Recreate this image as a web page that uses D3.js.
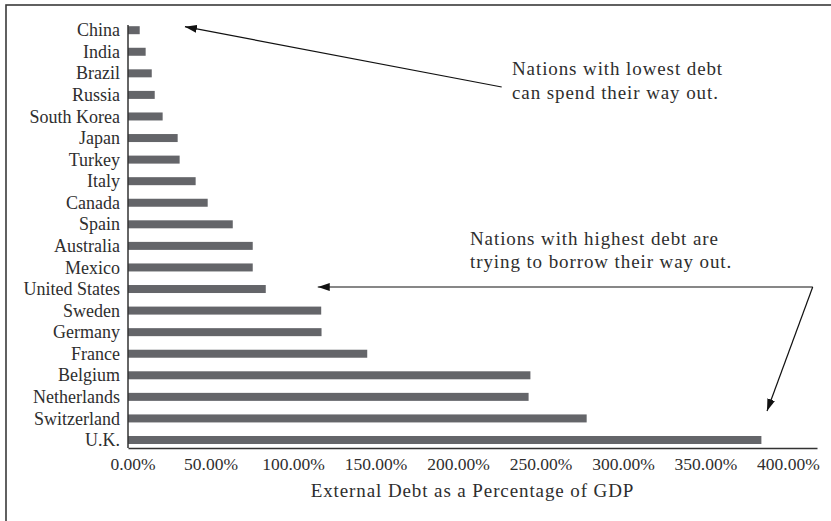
<!DOCTYPE html>
<html>
<head>
<meta charset="utf-8">
<script src="https://cdn.jsdelivr.net/npm/d3@7"></script>
<style>
  html, body { margin: 0; padding: 0; background: #fff; }
  svg { display: block; }
  text { font-family: "Liberation Serif", "Times New Roman", serif; fill: #2e2e2e; }
</style>
</head>
<body>
<svg id="chart" width="831" height="521"></svg>
<script>
// External debt as a share of GDP, by country (percent)
const countries = [
  "China", "India", "Brazil", "Russia", "South Korea", "Japan", "Turkey",
  "Italy", "Canada", "Spain", "Australia", "Mexico", "United States",
  "Sweden", "Germany", "France", "Belgium", "Netherlands", "Switzerland", "U.K."
];
const debtPct = [
  7.1, 10.7, 14.4, 16.2, 21.0, 30.1, 31.3,
  41.0, 48.3, 63.5, 75.6, 75.6, 83.5,
  117.1, 117.3, 145.0, 243.9, 242.8, 278.0, 383.9
];
const tickValues = [0, 50, 100, 150, 200, 250, 300, 350, 400];
const axisTitle = "External Debt as a Percentage of GDP";
const noteLow = ["Nations with lowest debt", "can spend their way out."];
const noteHigh = ["Nations with highest debt are", "trying to borrow their way out."];

const data = countries.map((c, i) => ({ country: c, value: debtPct[i] }));

const svg = d3.select("#chart");

// Outer frame (open at the right and bottom edges of the canvas)
svg.append("rect")
  .attr("x", 6).attr("y", 5)
  .attr("width", 900).attr("height", 600)
  .attr("fill", "none").attr("stroke", "#3a3a3a").attr("stroke-width", 1.6);

const plot = { left: 128, right: 817, top: 25, bottom: 448 };

const x = d3.scaleLinear().domain([0, 417.6]).range([plot.left, plot.right]);
const y = d3.scalePoint().domain(countries).range([30.2, 440]);
const barH = 8;

// Bars
svg.append("g").selectAll("rect")
  .data(data)
  .join("rect")
  .attr("x", x(0))
  .attr("y", d => y(d.country) - barH / 2)
  .attr("width", d => x(d.value) - x(0))
  .attr("height", barH)
  .attr("fill", "#646569");

// Category labels
svg.append("g").selectAll("text")
  .data(countries)
  .join("text")
  .attr("x", plot.left - 8)
  .attr("y", d => y(d))
  .attr("dy", "0.34em")
  .attr("text-anchor", "end")
  .attr("font-size", 18)
  .text(d => d);

// Axis lines
svg.append("line")
  .attr("x1", plot.left).attr("x2", plot.left)
  .attr("y1", plot.top).attr("y2", plot.bottom)
  .attr("stroke", "#333").attr("stroke-width", 1.5);

const xAxis = d3.axisBottom(x)
  .tickValues(tickValues)
  .tickSize(0)
  .tickPadding(10)
  .tickFormat(v => d3.format(".2%")(v / 100));

const gx = svg.append("g")
  .attr("transform", `translate(0,${plot.bottom})`)
  .call(xAxis);
gx.select(".domain").attr("stroke", "#333").attr("stroke-width", 1.5);
gx.selectAll(".tick text")
  .attr("font-family", "Liberation Serif")
  .attr("font-size", 17.5)
  .attr("fill", "#2e2e2e")
  // keep the first label from hanging left of the plot edge
  .attr("dx", (d, i) => (i === 0 ? 4.5 : 0));

// Axis title
svg.append("text")
  .attr("x", (plot.left + plot.right) / 2)
  .attr("y", 497)
  .attr("text-anchor", "middle")
  .attr("font-size", 19)
  .attr("letter-spacing", 0.9)
  .text(axisTitle);

// Arrowhead marker
svg.append("defs").append("marker")
  .attr("id", "head")
  .attr("viewBox", "0 0 12 8")
  .attr("refX", 12).attr("refY", 4)
  .attr("markerWidth", 12).attr("markerHeight", 8)
  .attr("markerUnits", "userSpaceOnUse")
  .attr("orient", "auto")
  .append("path")
  .attr("d", "M0,0 L12,4 L0,8 Z")
  .attr("fill", "#111");

// Annotation: lowest debt
svg.append("line")
  .attr("x1", x(226.5)).attr("y1", 87)
  .attr("x2", x(34.5)).attr("y2", y("China") - 3.5)
  .attr("stroke", "#111").attr("stroke-width", 1.2)
  .attr("marker-end", "url(#head)");

svg.append("g").selectAll("text")
  .data(noteLow)
  .join("text")
  .attr("x", 512)
  .attr("y", (d, i) => 75 + i * 24)
  .attr("font-size", 19)
  .attr("letter-spacing", 0.9)
  .text(d => d);

// Annotation: highest debt (elbow with two heads)
const elbowY = y("United States") - 2;
svg.append("path")
  .attr("d", d3.line()([
    [x(415), elbowY],
    [x(115), elbowY]
  ]))
  .attr("fill", "none").attr("stroke", "#111").attr("stroke-width", 1.2)
  .attr("marker-end", "url(#head)");
svg.append("path")
  .attr("d", d3.line()([
    [x(415), elbowY],
    [x(387.3), y("Switzerland") - 7.5]
  ]))
  .attr("fill", "none").attr("stroke", "#111").attr("stroke-width", 1.2)
  .attr("marker-end", "url(#head)");

svg.append("g").selectAll("text")
  .data(noteHigh)
  .join("text")
  .attr("x", 470)
  .attr("y", (d, i) => 245 + i * 23)
  .attr("font-size", 19)
  .attr("letter-spacing", 0.9)
  .text(d => d);
</script>
</body>
</html>
